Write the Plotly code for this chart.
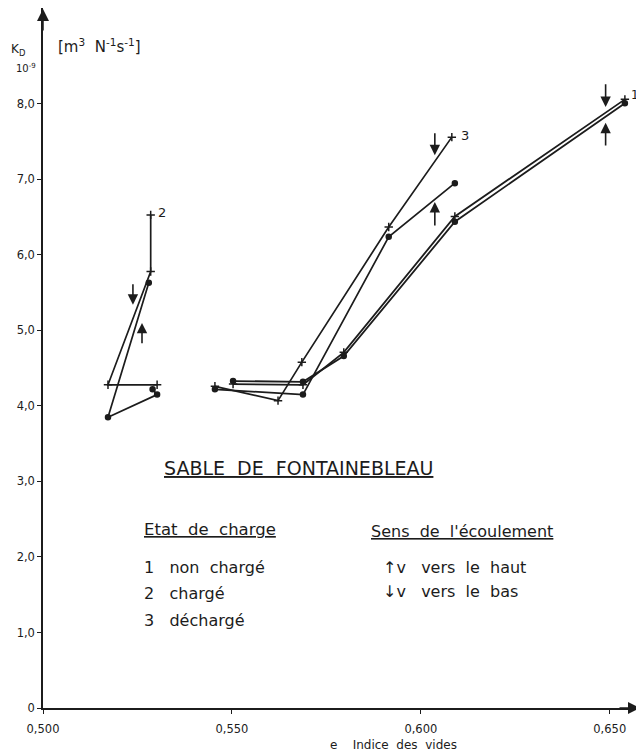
import plotly.graph_objects as go

# ---- data ----
# Series 1 : non chargé (double line, up / down flow)
e_1_up = [0.5503, 0.5688, 0.5796, 0.6090, 0.6540]
k_1_up = [4.33, 4.32, 4.66, 6.44, 8.01]
e_1_down = [0.5503, 0.5688, 0.5796, 0.6090, 0.6540]
k_1_down = [4.29, 4.28, 4.71, 6.51, 8.06]

# Series 2 : chargé
e_2_down = [0.5302, 0.5172, 0.5285, 0.5285]
k_2_down = [4.28, 4.28, 5.78, 6.53]
e_2_up = [0.5290, 0.5302, 0.5172, 0.5280]
k_2_up = [4.22, 4.15, 3.85, 5.63]

# Series 3 : déchargé
e_3_down = [0.5455, 0.5622, 0.5685, 0.5915, 0.6082]
k_3_down = [4.26, 4.07, 4.58, 6.37, 7.56]
e_3_up = [0.5455, 0.5688, 0.5915, 0.6090]
k_3_up = [4.22, 4.15, 6.24, 6.95]

x_tick_vals = [0.500, 0.550, 0.600, 0.650]
x_tick_text = ["0,500", "0,550", "0,600", "0,650"]
y_tick_vals = [0, 1, 2, 3, 4, 5, 6, 7, 8]
y_tick_text = ["0", "1,0", "2,0", "3,0", "4,0", "5,0", "6,0", "7,0", "8,0"]

# flow-direction arrows: (x, tip_y, tail_y)
arrows = [
    (0.5238, 5.34, 5.63),  # series 2, down
    (0.5262, 5.10, 4.81),  # series 2, up
    (0.6037, 7.32, 7.63),  # series 3, down
    (0.6037, 6.70, 6.37),  # series 3, up
    (0.6489, 7.96, 8.28),  # series 1, down
    (0.6489, 7.75, 7.43),  # series 1, up
]

INK = "#1c1c1c"
FONT = "DejaVu Sans"
W, H = 644, 751
OFF = 8  # page body margin
L, R, T, B = 35, 12, 0, 51
X_RANGE = [0.5, 0.658]
Y_RANGE = [0, 9.27]

fig = go.Figure()


def add_line(xs, ys, symbol, width=1.7, msize=6):
    fig.add_trace(go.Scatter(
        x=xs, y=ys, mode="lines+markers",
        line=dict(color=INK, width=width),
        marker=dict(symbol=symbol, size=msize, color=INK,
                    line=dict(color=INK, width=1.5)),
        showlegend=False, hoverinfo="skip"))


add_line(e_1_up, k_1_up, "circle", width=1.8, msize=5)
add_line(e_1_down, k_1_down, "cross-thin", width=1.8, msize=6)
add_line(e_2_down, k_2_down, "cross-thin")
add_line(e_2_up, k_2_up, "circle", msize=5)
add_line(e_3_down, k_3_down, "cross-thin")
add_line(e_3_up, k_3_up, "circle", msize=5)

annotations = []
for x, tip, tail in arrows:
    annotations.append(dict(
        x=x, y=tip, ax=x, ay=tail, xref="x", yref="y", axref="x", ayref="y",
        text="", showarrow=True, arrowhead=2, arrowsize=1.3, arrowwidth=1.6,
        arrowcolor=INK))


def px_to_paper(px, py):
    fx, fy = px - OFF, py - OFF
    return (fx - L) / (W - L - R), (H - B - fy) / (H - T - B)


def text_at(px, py, text, size=15, xanchor="left"):
    xp, yp = px_to_paper(px, py)
    annotations.append(dict(
        x=xp, y=yp, xref="paper", yref="paper", text=text, showarrow=False,
        xanchor=xanchor, yanchor="middle",
        font=dict(family=FONT, size=size, color=INK)))


# series labels
annotations.append(dict(x=0.6550, y=8.12, xref="x", yref="y", text="1",
                        showarrow=False, xanchor="left",
                        font=dict(family=FONT, size=12, color=INK)))
annotations.append(dict(x=0.5300, y=6.56, xref="x", yref="y", text="2",
                        showarrow=False, xanchor="left",
                        font=dict(family=FONT, size=13, color=INK)))
annotations.append(dict(x=0.6100, y=7.58, xref="x", yref="y", text="3",
                        showarrow=False, xanchor="left",
                        font=dict(family=FONT, size=13, color=INK)))

# axis titles
text_at(9, 50, "K<sub>D</sub>", size=12)
text_at(14, 68, "10<sup>-9</sup>", size=10)
text_at(56, 46, "[m<sup>3</sup>  N<sup>-1</sup>s<sup>-1</sup>]", size=15)
text_at(328, 745, "e    Indice  des  vides", size=12)

# legend block
text_at(162, 468, "<u>SABLE  DE  FONTAINEBLEAU</u>", size=19)
text_at(142, 529, "<u>Etat  de  charge</u>", size=16.5)
text_at(142, 567, "1   non  chargé", size=16)
text_at(142, 593, "2   chargé", size=16)
text_at(142, 620, "3   déchargé", size=16)
text_at(369, 531, "<u>Sens  de  l'écoulement</u>", size=16)
text_at(381, 567, "↑v   vers  le  haut", size=16)
text_at(381, 591, "↓v   vers  le  bas", size=16)

# axis end arrows
annotations.append(dict(x=1.0, y=0, xref="paper", yref="paper", ax=-22, ay=0,
                        text="", showarrow=True, arrowhead=2, arrowsize=1.6,
                        arrowwidth=1.5, arrowcolor=INK))
annotations.append(dict(x=0, y=1.0, xref="paper", yref="paper", ax=0, ay=24,
                        text="", showarrow=True, arrowhead=2, arrowsize=1.6,
                        arrowwidth=1.5, arrowcolor=INK))

fig.update_layout(
    width=W, height=H,
    margin=dict(l=L, r=R, t=T, b=B),
    paper_bgcolor="white", plot_bgcolor="white",
    annotations=annotations,
    xaxis=dict(range=X_RANGE, tickvals=x_tick_vals, ticktext=x_tick_text,
               showgrid=False, zeroline=False, showline=True,
               linecolor=INK, linewidth=1.5, ticks="outside", ticklen=4,
               ticklabelstandoff=5,
               tickcolor=INK, tickfont=dict(family=FONT, size=11.5, color=INK)),
    yaxis=dict(range=Y_RANGE, tickvals=y_tick_vals, ticktext=y_tick_text,
               showgrid=False, zeroline=False, showline=True,
               linecolor=INK, linewidth=1.5, ticks="outside", ticklen=4,
               tickcolor=INK, tickfont=dict(family=FONT, size=11.5, color=INK)),
)

fig.write_html("out.html")
